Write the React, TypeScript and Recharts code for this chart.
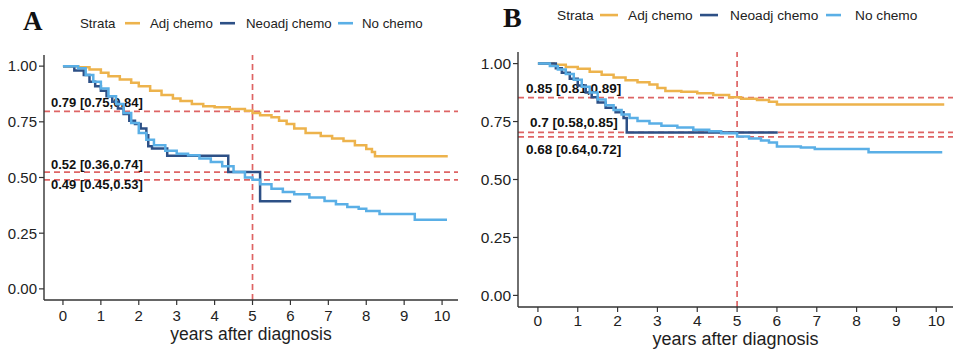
import React from 'react';
import { LineChart, Line, XAxis, YAxis, ReferenceLine } from 'recharts';

// Kaplan-Meier step points [years, survival]
const adjChemoA: [number, number][] = [
  [0, 1], [0.4, 0.995], [0.7, 0.985], [1.0, 0.97], [1.2, 0.955], [1.5, 0.94], [1.8, 0.925],
  [2.0, 0.91], [2.3, 0.89], [2.6, 0.87], [2.9, 0.855], [3.1, 0.843], [3.4, 0.83], [3.7, 0.82],
  [4.0, 0.815], [4.4, 0.808], [4.8, 0.8], [5.0, 0.79], [5.2, 0.78], [5.5, 0.77], [5.7, 0.755],
  [5.9, 0.74], [6.1, 0.72], [6.4, 0.7], [6.8, 0.686], [7.1, 0.675], [7.4, 0.664], [7.7, 0.645],
  [8.0, 0.628], [8.15, 0.614], [8.23, 0.595], [10.15, 0.595],
];
const neoChemoA: [number, number][] = [
  [0, 1], [0.3, 0.98], [0.55, 0.96], [0.7, 0.93], [0.85, 0.91], [1.0, 0.89], [1.15, 0.865],
  [1.3, 0.84], [1.45, 0.81], [1.6, 0.785], [1.75, 0.755], [1.9, 0.74], [2.05, 0.72], [2.2, 0.69],
  [2.25, 0.64], [2.35, 0.63], [2.75, 0.598], [4.36, 0.525], [5.2, 0.393], [6.02, 0.393],
];
const noChemoA: [number, number][] = [
  [0, 1], [0.4, 0.99], [0.6, 0.96], [0.8, 0.93], [1.0, 0.9], [1.2, 0.865], [1.4, 0.83],
  [1.6, 0.79], [1.8, 0.745], [2.0, 0.7], [2.2, 0.67], [2.4, 0.645], [2.7, 0.62], [3.0, 0.607],
  [3.3, 0.6], [3.6, 0.585], [3.9, 0.57], [4.2, 0.55], [4.5, 0.525], [4.8, 0.5], [5.0, 0.49],
  [5.2, 0.47], [5.5, 0.45], [5.8, 0.435], [6.1, 0.425], [6.5, 0.41], [6.9, 0.395], [7.2, 0.38],
  [7.5, 0.368], [7.8, 0.36], [8.0, 0.35], [8.35, 0.336], [9.28, 0.31], [10.13, 0.31],
];

const adjChemoB: [number, number][] = [
  [0, 1], [0.4, 0.995], [0.7, 0.985], [1.0, 0.978], [1.3, 0.965], [1.6, 0.952], [1.9, 0.94],
  [2.2, 0.928], [2.5, 0.92], [2.8, 0.91], [3.0, 0.895], [3.2, 0.882], [3.6, 0.878], [4.0, 0.872],
  [4.4, 0.865], [4.8, 0.855], [5.1, 0.848], [5.5, 0.843], [5.8, 0.835], [6.0, 0.823], [10.2, 0.823],
];
const neoChemoB: [number, number][] = [
  [0, 1], [0.45, 0.98], [0.6, 0.96], [0.8, 0.935], [1.0, 0.905], [1.2, 0.875], [1.35, 0.855],
  [1.5, 0.832], [1.7, 0.81], [1.95, 0.79], [2.15, 0.765], [2.23, 0.703], [6.02, 0.703],
];
const noChemoB: [number, number][] = [
  [0, 1], [0.3, 0.99], [0.5, 0.975], [0.7, 0.955], [0.9, 0.93], [1.1, 0.9], [1.3, 0.875],
  [1.5, 0.845], [1.7, 0.82], [1.9, 0.8], [2.1, 0.78], [2.3, 0.765], [2.5, 0.752], [2.8, 0.742],
  [3.1, 0.732], [3.5, 0.724], [3.9, 0.715], [4.3, 0.708], [4.6, 0.7], [5.0, 0.686], [5.3, 0.677],
  [5.6, 0.668], [5.8, 0.66], [6.0, 0.642], [6.6, 0.638], [6.95, 0.632], [8.3, 0.618], [10.15, 0.618],
];

// 5-year survival estimates with CI text
const fiveYearA = [0.797, 0.524, 0.489];
const fiveYearTextA = ['0.79 [0.75,0.84]', '0.52 [0.36,0.74]', '0.49 [0.45,0.53]'];
const fiveYearB = [0.853, 0.703, 0.684];
const fiveYearTextB = ['0.85 [0.81,0.89]', '0.7 [0.58,0.85]', '0.68 [0.64,0.72]'];

const yTicks = [0, 0.25, 0.5, 0.75, 1];
const xTicks = [0, 1, 2, 3, 4, 5, 6, 7, 8, 9, 10];
const landmarkYear = 5;
const strata = ['Adj chemo', 'Neoadj chemo', 'No chemo'];

const COLORS = ['#EDB34C', '#2D5086', '#5AAFE6'];
const RED = '#DE6464';
const FONT = '"Liberation Sans", Arial, Helvetica, sans-serif';

const toRows = (pts: [number, number][]) => pts.map(([t, s]) => ({ t, s }));

const CiLabel = (props: any) => {
  const { viewBox, text, offX, offY, size } = props;
  if (!viewBox) return null;
  return (
    <text
      x={viewBox.x + offX}
      y={viewBox.y + offY}
      dominantBaseline="central"
      fontFamily={FONT}
      fontSize={size}
      fontWeight="bold"
      fill="#111"
    >
      {text}
    </text>
  );
};

interface PanelProps {
  series: [number, number][][];
  cuts: number[];
  cutTexts: string[];
  labelOffsets: [number, number][];
  width: number;
  margin: { top: number; right: number; bottom: number; left: number };
  yAxisWidth: number;
  xAxisHeight: number;
  xTickMargin: number;
  titleOffset: number;
  titleSize: number;
  tickSize: number;
  labelSize: number;
}

const KmPanel = (p: PanelProps) => (
  <LineChart width={p.width} height={356} margin={p.margin}>
    <XAxis
      type="number"
      dataKey="t"
      domain={[-0.5, 10.42]}
      allowDataOverflow
      ticks={xTicks}
      tickSize={5}
      tickMargin={p.xTickMargin}
      height={p.xAxisHeight}
      axisLine={{ stroke: '#333', strokeWidth: 1.4 }}
      tickLine={{ stroke: '#333', strokeWidth: 1.2 }}
      tick={{ fontSize: p.tickSize, fill: '#222', fontFamily: FONT }}
      label={{
        value: 'years after diagnosis',
        position: 'insideBottom',
        offset: p.titleOffset,
        fontSize: p.titleSize,
        fill: '#1e1e1e',
        fontFamily: FONT,
      }}
    />
    <YAxis
      type="number"
      domain={[-0.05, 1.05]}
      allowDataOverflow
      ticks={yTicks}
      tickFormatter={(v: number) => v.toFixed(2)}
      width={p.yAxisWidth}
      tickSize={5}
      tickMargin={2}
      axisLine={{ stroke: '#333', strokeWidth: 1.4 }}
      tickLine={{ stroke: '#333', strokeWidth: 1.2 }}
      tick={{ fontSize: p.tickSize, fill: '#222', fontFamily: FONT }}
    />
    {p.cuts.map((c, i) => (
      <ReferenceLine
        key={'h' + i}
        y={c}
        stroke={RED}
        strokeWidth={1.7}
        strokeDasharray="6 4"
        label={<CiLabel text={p.cutTexts[i]} offX={p.labelOffsets[i][0]} offY={p.labelOffsets[i][1]} size={p.labelSize} />}
      />
    ))}
    <ReferenceLine x={landmarkYear} stroke={RED} strokeWidth={1.7} strokeDasharray="6 4" />
    {p.series.map((pts, i) => (
      <Line
        key={strata[i]}
        data={toRows(pts)}
        dataKey="s"
        name={strata[i]}
        type="stepAfter"
        stroke={COLORS[i]}
        strokeWidth={2.5}
        dot={false}
        activeDot={false}
        isAnimationActive={false}
      />
    ))}
  </LineChart>
);

const LegendRow = ({ x0, y, size, spots }: { x0: number; y: number; size: number; spots: number[][] }) => (
  <g fontFamily={FONT} fontSize={size} fill="#222">
    <text x={x0} y={y}>Strata</text>
    {strata.map((s, i) => (
      <g key={s}>
        <line x1={spots[i][0]} x2={spots[i][1]} y1={y - size * 0.36} y2={y - size * 0.36} stroke={COLORS[i]} strokeWidth={2.6} />
        <text x={spots[i][2]} y={y}>{s}</text>
      </g>
    ))}
  </g>
);

export default function App() {
  return (
    <div style={{ position: 'absolute', left: 0, top: 0, width: 956, height: 356, background: '#fff' }}>
      <div style={{ position: 'absolute', left: 0, top: 0 }}>
        <KmPanel
          series={[adjChemoA, neoChemoA, noChemoA]}
          cuts={fiveYearA}
          cutTexts={fiveYearTextA}
          labelOffsets={[[7, -9], [7, -8], [7, 5]]}
          width={480}
          margin={{ top: 55, right: 22, bottom: 0, left: 0 }}
          yAxisWidth={44}
          xAxisHeight={56}
          xTickMargin={5}
          titleOffset={16}
          titleSize={17.5}
          tickSize={15}
          labelSize={13}
        />
      </div>
      <div style={{ position: 'absolute', left: 480, top: 0 }}>
        <KmPanel
          series={[adjChemoB, neoChemoB, noChemoB]}
          cuts={fiveYearB}
          cutTexts={fiveYearTextB}
          labelOffsets={[[8, -9], [12, -10], [8, 13]]}
          width={476}
          margin={{ top: 52, right: 3, bottom: 0, left: 0 }}
          yAxisWidth={38}
          xAxisHeight={49}
          xTickMargin={3}
          titleOffset={11}
          titleSize={18}
          tickSize={15.5}
          labelSize={13.5}
        />
      </div>
      <svg width={956} height={356} style={{ position: 'absolute', left: 0, top: 0, pointerEvents: 'none' }}>
        <text x={23} y={30} fontFamily='"Liberation Serif", "Times New Roman", serif' fontWeight="bold" fontSize={27} fill="#111">A</text>
        <text x={503} y={27} fontFamily='"Liberation Serif", "Times New Roman", serif' fontWeight="bold" fontSize={28} fill="#111">B</text>
        <LegendRow x0={80} y={28} size={13.3} spots={[[125, 140, 150], [220, 235, 246], [338, 353, 362]]} />
        <LegendRow x0={557} y={20} size={13.7} spots={[[600, 618, 628], [700, 718, 730], [826, 841, 855]]} />
      </svg>
    </div>
  );
}
